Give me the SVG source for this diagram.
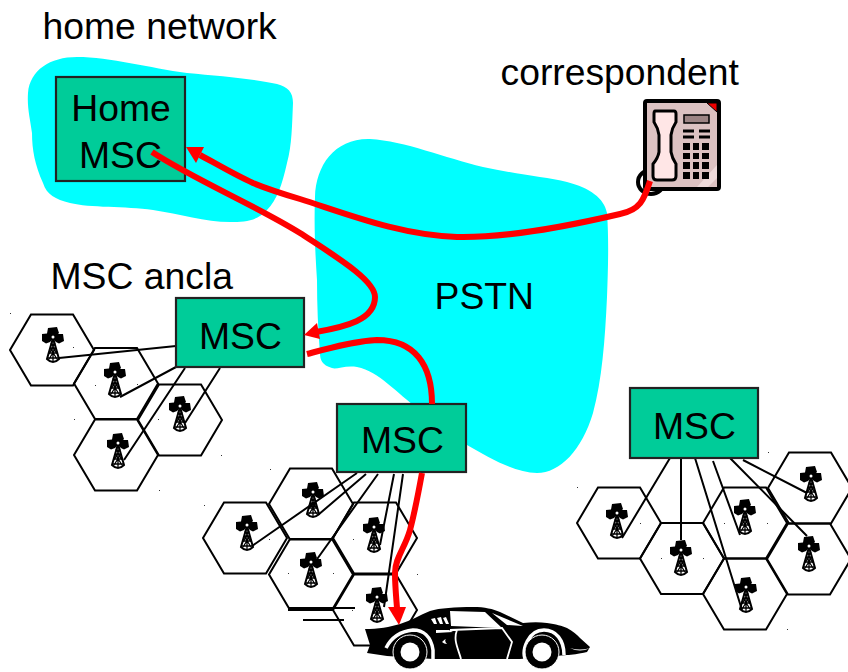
<svg xmlns="http://www.w3.org/2000/svg" width="848" height="672" viewBox="0 0 848 672">
<style>
.t{font-family:"Liberation Sans",Arial,sans-serif;font-size:37.3px;fill:#000}
.m{text-anchor:middle}
.box{fill:#00CC99;stroke:#222;stroke-width:2.2}
.hex{fill:none;stroke:#000;stroke-width:2}
.ln{fill:none;stroke:#000;stroke-width:2}
.red{fill:none;stroke:#F00;stroke-width:6;stroke-linecap:butt}
.sky{fill:#0FF}
</style>
<defs>
<path id="hx" d="M-42 0L-21-35.500H21L42 0L21 35.500H-21Z"/>
<g id="tw">
<path d="M-5 1L4 0L6 6L5 7L10 7L11 14L6 16.500L3 15L1 13H-1L-3 15L-7 16.500L-11 14L-11 7L-6 6.500Z" fill="#000"/>
<path d="M0 11L-6 32Q0 38 6 32Z" fill="#fff" stroke="#000" stroke-width="2"/>
<path d="M-4.500 26H4.500M-3 21H3M-5.500 31H5.500M-3 21L4 32M3 21L-4 32M-2 16L4 27M2 16L-4 27M0 13V35" fill="none" stroke="#000" stroke-width="1.300"/>
<circle cx="0" cy="10" r="1.500" fill="#fff"/>
</g>
</defs>
<g id="home-network-cloud"><path class="sky" d="M28 93C30 70 50 57 77 57C110 57 150 68 187 73C220 76 255 79 277 84C288 87 293 92 293 103C292 125 292 145 287 163C282 185 277 200 267 210C257 221 245 222 230 222C205 222 180 214 153 210C125 206 90 208 70 203C55 199 47 195 43 183C35 165 32 150 32 133C30 118 27 108 28 93Z"/></g>
<g id="pstn-cloud"><path class="sky" d="M315 197C316 165 335 138 370 139C405 141 445 158 483 167C515 174 545 177 567 182C590 188 604 198 607 213C609 240 608 270 607 297C605 340 602 380 593 413C582 450 560 473 537 473C515 473 490 458 467 445L420 410C395 392 380 372 357 367C345 365 336 370 332 368C322 365 320 360 320 353C318 330 317 305 317 280C315 250 314 225 315 197Z"/></g>
<g id="cells" class="hex">
<use href="#hx" x="52" y="350"/><use href="#hx" x="116" y="383.500"/><use href="#hx" x="180" y="420"/><use href="#hx" x="116" y="455"/>
<use href="#hx" x="245" y="538"/><use href="#hx" x="311" y="504"/><use href="#hx" x="375" y="538"/><use href="#hx" x="311" y="574.500"/><use href="#hx" x="375" y="610"/>
<use href="#hx" x="619" y="523"/><use href="#hx" x="682" y="558.500"/><use href="#hx" x="745" y="523"/><use href="#hx" x="745" y="594"/><use href="#hx" x="810" y="488"/><use href="#hx" x="809" y="559"/>
</g>
<path id="specks" fill="#333" d="M10 313h1v1h-1zM73 347h1v1h-1zM95 385h1v1h-1zM137 384h1v1h-1zM74 419h1v1h-1zM158 419h1v1h-1zM221 455h1v1h-1zM159 490h1v1h-1zM270 469h1v1h-1zM204 505h1v1h-1zM269 539h1v1h-1zM288 573h1v1h-1zM333 573h1v1h-1zM353 539h1v1h-1zM417 574h1v1h-1zM352 610h1v1h-1zM577 487h1v1h-1zM640 523h1v1h-1zM661 558h1v1h-1zM703 558h1v1h-1zM767 523h1v1h-1zM787 629h1v1h-1zM768 452h1v1h-1zM724 523h1v1h-1z"/>
<g id="towers">
<use href="#tw" x="53" y="327"/><use href="#tw" x="115" y="362"/><use href="#tw" x="180" y="396"/><use href="#tw" x="118" y="433"/>
<use href="#tw" x="247" y="515"/><use href="#tw" x="313" y="482"/><use href="#tw" x="374" y="517"/><use href="#tw" x="311" y="552"/><use href="#tw" x="377" y="587"/>
<use href="#tw" x="617" y="503"/><use href="#tw" x="681" y="540"/><use href="#tw" x="745" y="499"/><use href="#tw" x="746" y="577"/><use href="#tw" x="811" y="466"/><use href="#tw" x="809" y="536"/>
</g>
<g id="connectors">
<path class="ln" d="M59 358L176 346M120 397L176 367M185 423L220 368M124 460L185 368"/>
<path class="ln" d="M252 546L357 473M318 515L366 474M315 562L378 474M380 545L394 474M384 607L403 474M288 608H355M288 610H332M303 620H344"/>
<path class="ln" d="M622 538L670 458M681 540V458M742 610L695 458M740 535L713 461M807 536L730 458M807 493L743 460"/>
</g>
<g id="msc-home"><rect class="box" x="56" y="77" width="129" height="104"/><text class="t m" x="121" y="121">Home</text><text class="t m" x="120.500" y="168">MSC</text></g>
<g id="msc-anchor"><rect class="box" x="176" y="298" width="128" height="69"/><text class="t m" x="240.500" y="349">MSC</text></g>
<g id="msc-visited"><rect class="box" x="337" y="404" width="129" height="68"/><text class="t m" x="402.500" y="453">MSC</text></g>
<g id="msc-other"><rect class="box" x="630" y="388" width="128" height="70"/><text class="t m" x="694.500" y="439">MSC</text></g>
<text class="t" x="42.500" y="38.500">home network</text>
<text class="t" x="500.500" y="84.500">correspondent</text>
<text class="t" x="50.500" y="288.500">MSC ancla</text>
<text class="t" x="434.500" y="309">PSTN</text>
<g id="phone">
<ellipse cx="651" cy="182" rx="13" ry="12" fill="none" stroke="#000" stroke-width="4"/>
<rect x="645" y="101" width="74" height="88" rx="2" fill="#DCC2C2" stroke="#000" stroke-width="4"/>
<path d="M707 103H717V112Z" fill="#E00" stroke="#000" stroke-width="1"/>
<path d="M697 187L717 165V178L708 187Z" fill="#EEDADA"/>
<path d="M655 111H674Q676 111 676 114V122Q672 128 671 135V152Q672 158 676 164V176Q676 180 672 180H657Q653 180 653 176V164Q658 158 659 152V135Q658 128 654 122V114Q654 111 655 111Z" fill="#FFE6E6" stroke="#000" stroke-width="3"/>
<rect x="684" y="115" width="25" height="8" fill="#9C8484" stroke="#000" stroke-width="1.500"/>
<path d="M683 131H694M699 131H710M683 137H694M699 137H710" stroke="#000" stroke-width="3"/>
<path d="M683 143h7v7h-7zM693 143h6v7h-6zM702 143h7v7h-7zM683 153h7v6h-7zM693 153h6v6h-6zM702 153h7v6h-7zM683 162h7v7h-7zM693 162h6v7h-6zM702 162h7v7h-7zM683 172h7v7h-7zM693 172h6v7h-6zM702 172h7v7h-7z" fill="#000"/>
</g>
<g id="car">
<path d="M365 629C378 629 390 627 400 624C410 621 420 615 430 611C440 608 455 607 473 607C485 607 493 609 500 612L523 623C532 622 540 622 547 623C556 624 562 626 567 628C573 631 577 635 580 638L590 647L587 652C578 654 572 655 567 655L520 659H433L387 656L367 653L370 645Z" fill="#000"/>
<path d="M450 611L485 612L502 628L451 626ZM492 613L523 626L507 625Z" fill="#fff"/>
<path d="M431 619l4-1l2 6l-3 0zM437 618l4-1l2 7l-3 0zM443 618l3-1l3 7l-3 0zM436 630H449L453 632L436 633ZM442 642q3-3 4-3q-2 2 1 5q-3 0-5-2ZM570 648Q580 651 590 648Q580 653 570 648Z" fill="#fff"/>
<path d="M450 630L502 628L512 642L507 659M457 630C453 640 458 648 461 659" fill="none" stroke="#fff" stroke-width="1.800"/>
<path d="M386 648C392 636 403 631 413 630C423 630 431 636 433 650V659M525 659C522 650 528 630 544 630C556 630 564 640 564 655" fill="none" stroke="#fff" stroke-width="3.500"/>
<circle cx="410" cy="652" r="17" fill="#000" stroke="#fff" stroke-width="1"/><circle cx="410" cy="652" r="9.500" fill="#fff"/>
<circle cx="542" cy="652" r="17" fill="#000" stroke="#fff" stroke-width="1"/><circle cx="542" cy="652" r="9.500" fill="#fff"/>
</g>
<g id="red-paths">
<path class="red" d="M650 181C644 200 640 210 620 214C560 228 505 238 457 237C400 235 350 215 300 199C280 193 265 188 253 183C235 175 215 163 200 155"/>
<path d="M186 147L204 147L196 163Z" fill="#F00"/>
<path class="red" d="M152 152C195 180 255 205 300 233C335 256 375 280 375 297C375 320 345 327 316 332"/>
<path d="M304 335L317 323L320 339Z" fill="#F00"/>
<path class="red" d="M307 354C330 348 355 341 377 340C415 340 432 365 432 404"/>
<path class="red" d="M422 473C418 495 414 515 410 530C405 548 395 558 395 573C395 585 396 595 397 608"/>
<path d="M399 625L388 607H406Z" fill="#F00"/>
</g>
</svg>
